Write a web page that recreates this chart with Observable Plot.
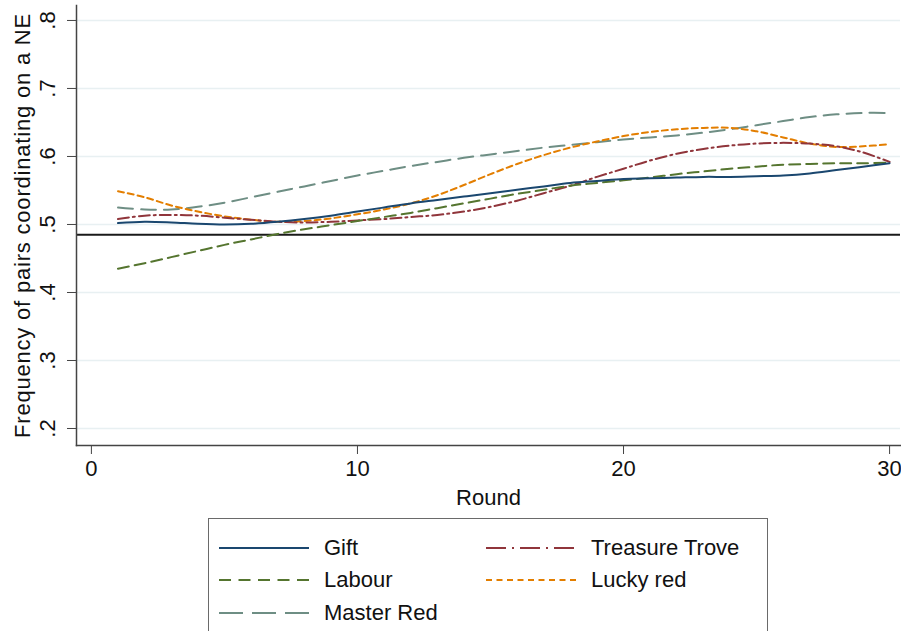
<!DOCTYPE html>
<html>
<head>
<meta charset="utf-8">
<script src="https://cdn.jsdelivr.net/npm/d3@7"></script>
<script src="https://cdn.jsdelivr.net/npm/@observablehq/plot@0.6"></script>
<style>
  html, body { margin: 0; padding: 0; background: #fff; }
  #wrap { position: relative; width: 901px; height: 631px; overflow: hidden; font-family: "Liberation Sans", Arial, sans-serif; }
  #legend { position: absolute; left: 208px; top: 518px; width: 560px; height: 140px; border: 1.5px solid #6a6a6a; box-sizing: border-box; background: #fff; }
  .item { position: absolute; height: 30px; display: flex; align-items: center; font-size: 22px; color: #111; }
  .item svg { margin-right: 15px; }
  #chart svg text { font-size: 22px; }
  #chart svg g[aria-label="y-axis label"] text { letter-spacing: 0.8px; }
</style>
</head>
<body>
<div id="wrap"><div id="chart"></div><div id="legend"></div></div>
<script>
const rounds = [1,2,3,4,5,6,7,8,9,10,11,12,13,14,15,16,17,18,19,20,21,22,23,24,25,26,27,28,29,30];
const gift = [0.502,0.504,0.503,0.501,0.500,0.501,0.504,0.508,0.513,0.519,0.525,0.531,0.536,0.541,0.546,0.551,0.556,0.561,0.564,0.567,0.568,0.569,0.570,0.570,0.571,0.572,0.575,0.580,0.585,0.590];
const labour = [0.435,0.443,0.452,0.461,0.470,0.478,0.486,0.493,0.499,0.505,0.511,0.517,0.524,0.531,0.538,0.545,0.551,0.557,0.561,0.565,0.569,0.574,0.578,0.582,0.585,0.588,0.589,0.590,0.590,0.591];
const masterRed = [0.525,0.522,0.522,0.526,0.532,0.540,0.548,0.556,0.564,0.572,0.579,0.586,0.592,0.598,0.603,0.608,0.613,0.617,0.621,0.625,0.628,0.631,0.635,0.640,0.646,0.652,0.658,0.662,0.664,0.664];
const treasureTrove = [0.508,0.513,0.514,0.513,0.510,0.507,0.504,0.503,0.504,0.506,0.508,0.511,0.514,0.519,0.526,0.535,0.546,0.557,0.570,0.582,0.594,0.604,0.611,0.616,0.619,0.620,0.619,0.615,0.606,0.592];
const luckyRed = [0.549,0.540,0.528,0.519,0.512,0.507,0.504,0.505,0.509,0.515,0.522,0.531,0.543,0.558,0.574,0.589,0.602,0.613,0.622,0.630,0.636,0.640,0.642,0.642,0.637,0.628,0.619,0.614,0.615,0.618];
const nashLine = [0.485];
const xTicks = [0, 10, 20, 30];
const yTicks = [0.2, 0.3, 0.4, 0.5, 0.6, 0.7, 0.8];

const series = [
  {name: "Gift", values: gift, color: "#1a476f", dash: null, legendDash: null},
  {name: "Labour", values: labour, color: "#55752f", dash: "11,6", legendDash: "12,7.5"},
  {name: "Master Red", values: masterRed, color: "#6e8e84", dash: "15,8", legendDash: "24,9"},
  {name: "Treasure Trove", values: treasureTrove, color: "#90353b", dash: "11,4,2,4", legendDash: "20,6,2,6"},
  {name: "Lucky red", values: luckyRed, color: "#e37e00", dash: "6,4", legendDash: "6,4.5"}
];
const drawOrder = ["Master Red", "Lucky red", "Treasure Trove", "Labour", "Gift"];

const lineMarks = drawOrder.map(n => {
  const s = series.find(d => d.name === n);
  const data = rounds.map((r, i) => ({round: r, value: s.values[i]}));
  return Plot.line(data, {x: "round", y: "value", stroke: s.color, strokeWidth: 2,
    strokeDasharray: s.dash ?? undefined, curve: "catmull-rom"});
});

const chart = Plot.plot({
  width: 901,
  height: 516,
  marginLeft: 76,
  marginRight: 1,
  marginTop: 5,
  marginBottom: 71,
  style: {fontFamily: "'Liberation Sans', Arial, sans-serif", fontSize: "22px", background: "#fff", color: "#111"},
  x: {domain: [-0.56, 30.41]},
  y: {domain: [0.175, 0.822]},
  marks: [
    Plot.gridY(yTicks, {stroke: "#e8f0f2", strokeOpacity: 1, strokeWidth: 1.5}),
    Plot.ruleY(nashLine, {stroke: "#1a1a1a", strokeWidth: 2}),
    ...lineMarks,
    Plot.frame({anchor: "left", stroke: "#444", strokeWidth: 1.5}),
    Plot.frame({anchor: "bottom", stroke: "#444", strokeWidth: 1.5}),
    Plot.axisY(yTicks, {tickSize: 9, tickPadding: 13, tickRotate: -90, fontSize: 22,
      tickFormat: d => String(d).replace(/^0/, ""), stroke: "#444",
      label: "Frequency of pairs coordinating on a NE", labelAnchor: "center", labelArrow: false, labelOffset: 62}),
    Plot.axisX(xTicks, {tickSize: 9, tickPadding: 6, fontSize: 22, stroke: "#444",
      label: "Round", labelAnchor: "center", labelArrow: false, labelOffset: 59})
  ]
});
document.getElementById("chart").appendChild(chart);

// legend
const legend = document.getElementById("legend");
const legendPos = {
  "Gift": [10, 14], "Labour": [10, 46], "Master Red": [10, 79],
  "Treasure Trove": [277, 14], "Lucky red": [277, 46]
};
for (const s of series) {
  const [lx, ly] = legendPos[s.name];
  const div = document.createElement("div");
  div.className = "item";
  div.style.left = lx + "px";
  div.style.top = ly + "px";
  const ns = "http://www.w3.org/2000/svg";
  const svg = document.createElementNS(ns, "svg");
  svg.setAttribute("width", 90); svg.setAttribute("height", 10);
  const ln = document.createElementNS(ns, "line");
  ln.setAttribute("x1", 0); ln.setAttribute("x2", 90); ln.setAttribute("y1", 5); ln.setAttribute("y2", 5);
  ln.setAttribute("stroke", s.color); ln.setAttribute("stroke-width", 2);
  if (s.legendDash) ln.setAttribute("stroke-dasharray", s.legendDash);
  svg.appendChild(ln);
  div.appendChild(svg);
  const t = document.createElement("span");
  t.textContent = s.name;
  div.appendChild(t);
  legend.appendChild(div);
}
</script>
</body>
</html>
